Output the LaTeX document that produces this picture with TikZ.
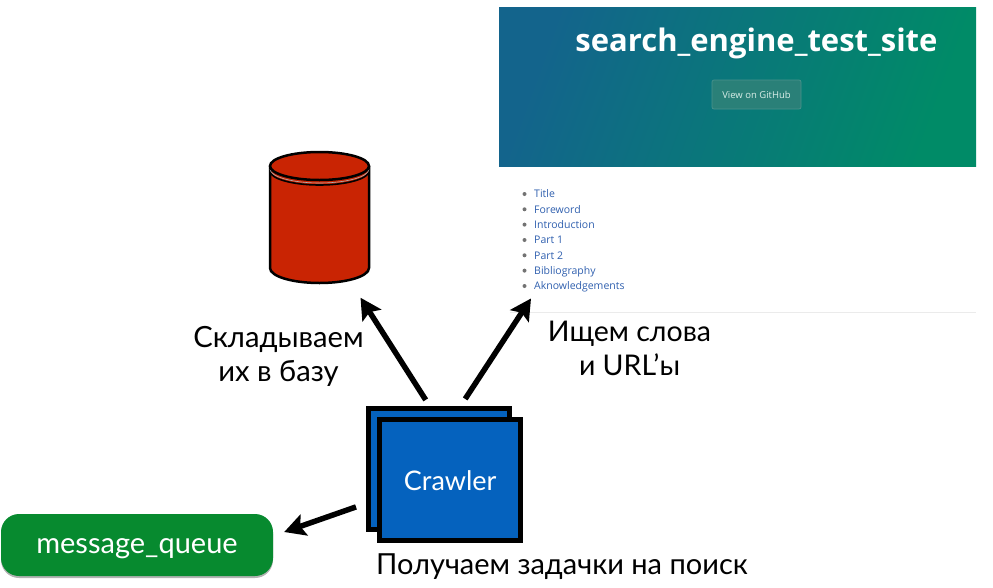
\documentclass[tikz,border=0pt]{standalone}
\usepackage{fontspec}
\setmainfont{Lato}
\newfontfamily\osans{Open Sans}
\usetikzlibrary{arrows.meta,shadows,calc}
\definecolor{crawlerblue}{HTML}{0562BE}
\definecolor{dbred}{HTML}{C92403}
\definecolor{qgreen}{HTML}{078A2F}
\definecolor{linkblue}{HTML}{2F5FAE}
\definecolor{headblue}{HTML}{13648C}
\definecolor{headgreen}{HTML}{008B67}
\definecolor{ghfill}{HTML}{2A8078}
\definecolor{ghline}{HTML}{4A938C}
\tikzset{
  conn/.style={line width=5.5pt,-{Stealth[length=21pt,width=22pt,inset=4pt]},black},
  crawlbox/.style={draw=black,line width=5pt,fill=crawlerblue,minimum width=141pt,minimum height=121pt,inner sep=0pt,text=white,font=\fontsize{27}{30}\selectfont},
  captext/.style={font=\fontsize{#1}{34}\selectfont,align=center,text=black,inner sep=0pt},
  linkitem/.style={anchor=west,text=linkblue,font=\osans\fontsize{10.5}{12}\selectfont,inner sep=0pt,text height=8pt,text depth=2.5pt},
  bulletdot/.style={circle,fill=black!55,inner sep=0pt,minimum size=4pt},
}
\begin{document}
\begin{tikzpicture}[x=1pt,y=-1pt]
\useasboundingbox (0,0) rectangle (993,587);
% site screenshot
\node[anchor=north west,minimum width=477pt,minimum height=159pt,inner sep=0pt,outer sep=0pt,left color=headblue,right color=headgreen,shading angle=70] (site) at (499,7) {};
\node[text=white,inner sep=0pt,font=\osans\bfseries\fontsize{31}{34}\selectfont] (title) at (756.5,43) {search\_engine\_test\_site};
\node[draw=ghline,fill=ghfill,rounded corners=2pt,minimum width=89pt,minimum height=29pt,inner sep=0pt,line width=.7pt,text=white!85!headgreen,font=\osans\fontsize{9.5}{11}\selectfont] (gh) at (756.5,94.5) {View on GitHub};
\foreach \n/\y/\t in {a/194/Title,b/209.3/Foreword,c/224.6/Introduction,d/240/Part 1,e/255.3/Part 2,f/270.6/Bibliography,g/286/Aknowledgements}{
  \node[bulletdot] (dot\n) at (524.5,\y) {};
  \node[linkitem] (item\n) at (534,\y+1) {\t};
}
\coordinate (sepl) at (510,312.5);
\coordinate (sepr) at (976,312.5);
\draw[black!8,line width=.8pt] (sepl) -- (sepr);
% database
\node[minimum width=99pt,minimum height=135pt,inner sep=0pt] (db) at (319.5,218) {};
\filldraw[fill=dbred,draw=black,line width=2.5pt] (270,167) -- (270,268) arc[start angle=180,end angle=0,x radius=49.5,y radius=15] -- (369,167) -- cycle;
\draw[black,line width=1.6pt] (270,171) arc[start angle=180,end angle=0,x radius=49.5,y radius=14];
\draw[white!70!black,line width=.6pt] (270,169) arc[start angle=180,end angle=0,x radius=49.5,y radius=14];
\filldraw[fill=dbred,draw=black,line width=2.5pt] (319.5,166) ellipse[x radius=49.5,y radius=14];
% crawlers
\node[crawlbox] (back) at (438.7,468.9) {};
\node[crawlbox] (crawler) at (450.2,480.3) {Crawler};
% queue
\node[fill=qgreen,rounded corners=18pt,minimum width=272pt,minimum height=62pt,inner sep=0pt,text=white,font=\fontsize{29}{30}\selectfont,text height=20pt,text depth=4pt,drop shadow={shadow xshift=0pt,shadow yshift=-2pt,opacity=.3,fill=black}] (queue) at (137,545) {message\_queue};
% captions
\node[captext=29.2] (capdb) at (278.5,356) {Складываем\\[0pt]их в базу};
\node[captext=28.5] (capsite) at (629.5,348.5) {Ищем слова\\[0pt]и URL’ы};
\node[captext=29] (captask) at (562,566.5) {Получаем задачки на поиск};
% connectors
\draw[conn] ([shift={(-13,-6)}]back.north) -- ([shift={(41,12)}]db.south);
\draw[conn] ([shift={(26.5,-7)}]back.north) -- ([shift={(-3,6)}]itemg.south west);
\draw[conn] ([shift={(-9.7,38)}]back.west) -- ([shift={(11,-13)}]queue.east);
\end{tikzpicture}
\end{document}
